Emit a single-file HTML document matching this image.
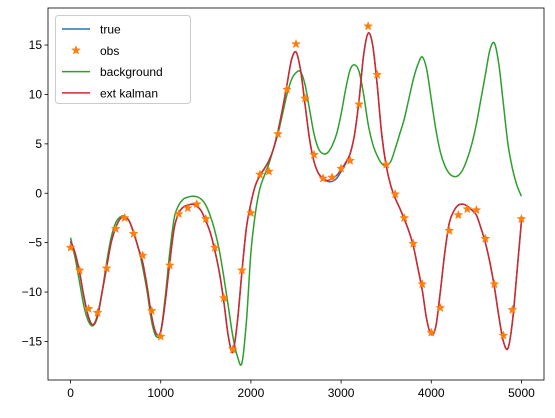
<!DOCTYPE html>
<html><head><meta charset="utf-8"><style>
body{margin:0;background:#fff;}
svg text{font-family:"Liberation Sans","DejaVu Sans",sans-serif;}
</style></head><body>
<svg id="chart" width="555" height="413" xmlns="http://www.w3.org/2000/svg">
<g id="plot"></g>
</svg>
<script>
const tStep = 50;
const trueVals = [-4.8,-6,-8,-10.5,-12.5,-13.3,-12.3,-10,-7.5,-5,-3.5,-2.6,-2.4,-2.8,-4,-5.5,-7,-9.5,-12.5,-14.2,-14,-11,-7,-3.5,-2,-1.4,-1.2,-1.1,-1.3,-1.8,-2.8,-4,-5.8,-8,-11,-14.5,-16.0,-13,-8,-3.5,-1,0.8,1.8,2.5,3.3,4.5,6.3,8.5,11,13.5,14.3,12.5,9,5.5,3.2,2,1.5,1.2,1.2,1.5,2.2,3,4,6,9.5,14,16.2,15,11,6,2.8,0.8,-0.5,-1.5,-2.6,-3.8,-5.3,-7.5,-9.8,-12.8,-14.3,-13.5,-10,-6,-3,-1.8,-1.2,-1.1,-1.3,-1.7,-2.2,-3.5,-5,-7,-9.5,-12.5,-15,-15.7,-13,-8,-2.8];
const kalmanVals = [-4.9,-6.1,-8,-10.6,-12.6,-13.3,-12.3,-10,-7.5,-5,-3.5,-2.6,-2.4,-2.8,-4,-5.5,-7,-9.5,-12.5,-14.2,-14,-11,-7,-3.5,-2,-1.4,-1.2,-1.1,-1.3,-1.8,-2.8,-4,-5.8,-8,-11,-14.5,-16.1,-13,-8,-3.5,-1,0.8,1.8,2.5,3.3,4.5,6.3,8.5,11,13.5,14.3,12.5,9,5.5,3.2,2,1.5,1.3,1.5,1.8,2.4,3.1,4,6,9.5,14,16.2,15,11,6,2.8,0.8,-0.5,-1.5,-2.6,-3.8,-5.3,-7.5,-9.8,-12.8,-14.3,-13.5,-10,-6,-3,-1.8,-1.2,-1.1,-1.3,-1.7,-2.2,-3.5,-5,-7,-9.5,-12.5,-15,-15.7,-13,-8,-2.8];
const bgVals = [-4.5,-6.5,-9,-11.5,-13,-13.4,-12.5,-10,-7,-4.5,-3,-2.4,-2.3,-2.8,-4,-5.5,-7.5,-10,-13,-14.5,-14,-10.5,-6,-2.5,-1.2,-0.6,-0.4,-0.3,-0.35,-0.6,-1.2,-2.3,-3.8,-5.8,-8.5,-11.5,-14.5,-16.5,-17.2,-13,-6,-2,0.5,1.8,3,4.5,6,8,10,11.5,12.2,12.3,11,8.5,6,4.5,4,4.1,4.8,6,8,10.5,12.5,13,12.3,10,7,5,3.8,3,2.8,3.2,4.5,6,7.5,9.5,11.5,13,13.8,12.5,9.5,6.5,4.2,2.8,2,1.7,1.8,2.4,3.5,5,7,9.5,12,14.5,15.2,13,9,5,2.5,0.8,-0.3];
const obsStep = 100;
const obsVals = [-5.5,-7.8,-11.7,-12.1,-7.6,-3.6,-2.5,-4.1,-6.3,-11.9,-14.5,-7.3,-2.1,-1.5,-1.1,-2.6,-5.5,-10.6,-15.8,-7.8,-2.0,1.9,2.2,6.0,10.5,15.1,9.6,3.9,1.5,1.6,2.5,3.3,9.0,16.9,12.0,2.9,-0.1,-2.5,-5.1,-9.2,-14.1,-11.6,-3.8,-2.2,-1.6,-1.7,-4.6,-9.2,-14.4,-11.8,-2.6];
const xTicks = [0,1000,2000,3000,4000,5000];
const yTicks = [-15,-10,-5,0,5,10,15];

const L=48,R=544,T=8,B=380;
const xMin=-250,xMax=5250,yMin=-18.9,yMax=18.75;
const sx=v=>L+(v-xMin)/(xMax-xMin)*(R-L);
const sy=v=>B-(v-yMin)/(yMax-yMin)*(B-T);
const NS="http://www.w3.org/2000/svg";
const plot=document.getElementById('plot');
function mk(tag,attrs,parent){const e=document.createElementNS(NS,tag);for(const k in attrs)e.setAttribute(k,attrs[k]);(parent||plot).appendChild(e);return e;}
function smooth(vals,step){
  const p=vals.map((v,i)=>[sx(i*step),sy(v)]);
  let d=`M${p[0][0]},${p[0][1]}`;
  for(let i=0;i<p.length-1;i++){
    const p0=p[Math.max(0,i-1)],p1=p[i],p2=p[i+1],p3=p[Math.min(p.length-1,i+2)];
    d+=` C${p1[0]+(p2[0]-p0[0])/6},${p1[1]+(p2[1]-p0[1])/6} ${p2[0]-(p3[0]-p1[0])/6},${p2[1]-(p3[1]-p1[1])/6} ${p2[0]},${p2[1]}`;
  }
  return d;
}
const bg=mk('path',{d:smooth(bgVals,tStep),fill:'none',stroke:'#2ca02c','stroke-width':1.5});


const tr=mk('path',{d:smooth(trueVals,tStep),fill:'none',stroke:'#1f77b4','stroke-width':1.5});


const km=mk('path',{d:smooth(kalmanVals,tStep),fill:'none',stroke:'#d62728','stroke-width':1.5});


function star(cx,cy,r){let pts=[];for(let i=0;i<10;i++){const a=-Math.PI/2+i*Math.PI/5;const rr=i%2?r*0.42:r;pts.push((cx+rr*Math.cos(a)).toFixed(2)+','+(cy+rr*Math.sin(a)).toFixed(2));}return pts.join(' ');}
obsVals.forEach((v,i)=>{
  const s=mk('polygon',{points:star(sx(i*obsStep),sy(v),4.5),fill:'#ff7f0e',stroke:'#ff7f0e','stroke-width':0.5});
  
  
});
const fr=mk('rect',{x:L,y:T,width:R-L,height:B-T,fill:'none',stroke:'#000','stroke-width':0.8});


xTicks.forEach(t=>{
  const x=sx(t);
  mk('line',{x1:x,x2:x,y1:B,y2:B+3.5,stroke:'#000','stroke-width':0.8});
  const tx=mk('text',{x:x,y:B+17,'text-anchor':'middle','font-size':12,fill:'#000'});
  tx.textContent=t;
  
  
});
yTicks.forEach(t=>{
  const y=sy(t);
  mk('line',{x1:L-3.5,x2:L,y1:y,y2:y,stroke:'#000','stroke-width':0.8});
  const tx=mk('text',{x:L-6,y:y+4,'text-anchor':'end','font-size':12,fill:'#000'});
  tx.textContent=t<0?'\u2212'+(-t):t;
  
  
});
const lg=mk('g',{});


mk('rect',{x:55.5,y:15.5,width:135,height:88,rx:3,fill:'#fff','fill-opacity':0.85,stroke:'#ccc','stroke-width':1},lg);
const items=[['true','#1f77b4','line'],['obs','#ff7f0e','star'],['background','#2ca02c','line'],['ext kalman','#d62728','line']];
items.forEach((it,i)=>{
  const y=29+i*21.3;
  const g=mk('g',{},lg);
  
  
  if(it[2]==='line')mk('line',{x1:62,x2:90,y1:y,y2:y,stroke:it[1],'stroke-width':1.5},g);
  else mk('polygon',{points:star(76,y,4.5),fill:it[1],stroke:it[1],'stroke-width':0.5},g);
  const t=mk('text',{x:100,y:y+4.5,'font-size':12,fill:'#000'},g);
  t.textContent=it[0];
});
</script>
</body></html>
